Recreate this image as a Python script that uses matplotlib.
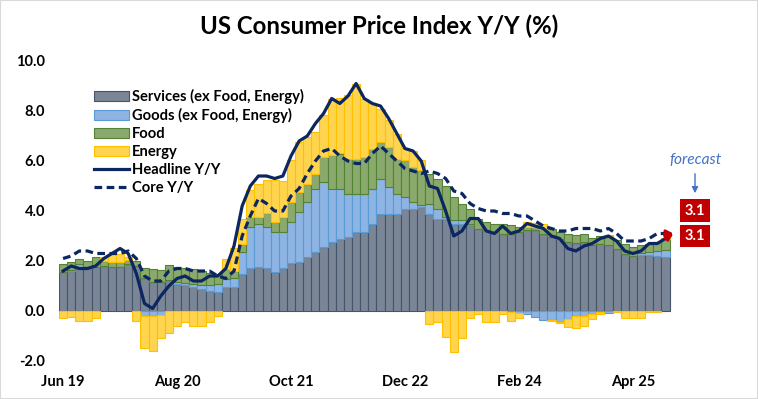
import matplotlib
matplotlib.use('Agg')
import matplotlib.pyplot as plt
from matplotlib.patches import Patch, Rectangle
from matplotlib.lines import Line2D
import numpy as np

# monthly, Jun 2019 .. Aug 2025
tick_pos = [0, 14, 28, 42, 56, 70]
tick_labels = ['Jun 19', 'Aug 20', 'Oct 21', 'Dec 22', 'Feb 24', 'Apr 25']

services = [1.57, 1.61, 1.73, 1.73, 1.77, 1.8, 1.77, 1.77, 1.9, 1.8,
            1.31, 1.17, 1.17, 1.24, 1.1, 1.04, 0.97, 0.9, 0.81, 0.77,
            0.97, 0.97, 1.47, 1.71, 1.77, 1.71, 1.57, 1.71, 1.91, 1.97,
            2.17, 2.37, 2.57, 2.77, 2.9, 2.97, 3.17, 3.17, 3.5, 3.9,
            3.9, 3.9, 4.08, 4.08, 4.15, 3.9, 3.7, 3.67, 3.5, 3.5,
            3.44, 3.3, 3.24, 3.17, 3.1, 3.08, 3.17, 3.24, 3.24, 3.1,
            2.97, 2.9, 2.77, 2.73, 2.77, 2.64, 2.7, 2.64, 2.48, 2.27,
            2.2, 2.24, 2.24, 2.2, 2.17]
goods = [0, 0.05, 0.16, 0.05, 0, 0, 0, 0, 0, 0,
         -0.2, -0.2, -0.15, 0, 0.05, 0.1, 0.13, 0.15, 0.23, 0.33,
         0.3, 0.35, 0.9, 1.67, 1.73, 1.67, 1.6, 1.47, 1.67, 2.0,
         2.2, 2.53, 2.6, 2.13, 2.0, 1.73, 1.53, 1.53, 1.4, 1.4,
         1.07, 0.8, 0.5, 0.3, 0.1, 0.37, 0.4, 0.08, 0.16, 0.16,
         0.05, 0, 0, 0, 0, -0.05, -0.07, -0.13, -0.25, -0.36,
         -0.36, -0.43, -0.3, -0.2, -0.2, -0.1, -0.03, -0.07, 0, 0,
         0, 0.07, 0.13, 0.21, 0.27]
food = [0.33, 0.3, 0.2, 0.22, 0.4, 0.2, 0.2, 0.2, 0.15, 0.2,
        0.4, 0.53, 0.47, 0.6, 0.6, 0.6, 0.6, 0.57, 0.5, 0.4,
        0.4, 0.3, 0.3, 0.4, 0.27, 0.53, 0.4, 0.6, 0.8, 0.8,
        0.73, 0.6, 1.0, 1.33, 1.4, 1.4, 1.4, 1.47, 1.6, 1.47,
        1.6, 1.4, 1.47, 1.4, 1.4, 1.23, 1.2, 1.24, 0.9, 0.64,
        0.6, 0.4, 0.33, 0.33, 0.37, 0.36, 0.2, 0.13, 0.13, 0.2,
        0.33, 0.27, 0.33, 0.3, 0.3, 0.3, 0.3, 0.37, 0.36, 0.4,
        0.37, 0.33, 0.33, 0.36, 0.43]
energy = [-0.29, -0.23, -0.4, -0.4, -0.29, 0.15, 0.3, 0.3, 0.1, -0.4,
          -1.29, -1.4, -0.94, -0.89, -0.6, -0.43, -0.6, -0.6, -0.43, -0.2,
          0.4, 0.9, 1.0, 1.07, 1.33, 1.33, 1.67, 1.43, 1.67, 2.0,
          1.87, 1.67, 1.67, 2.27, 2.2, 2.53, 3.0, 2.33, 1.8, 1.33,
          1.07, 1.0, 0.47, 0.64, 0.4, -0.5, -0.43, -1.03, -1.63, -1.09,
          -0.29, -0.1, -0.43, -0.43, -0.1, -0.36, -0.2, 0.2, 0.15, 0.2,
          -0.05, -0.05, -0.35, -0.49, -0.4, -0.23, -0.1, 0.05, -0.05, -0.27,
          -0.27, -0.27, -0.05, -0.05, 0.05]

headline = [1.6, 1.8, 1.7, 1.7, 1.8, 2.1, 2.3,
            2.5, 2.3, 1.5, 0.3, 0.1, 0.6, 1.0, 1.3, 1.4, 1.2, 1.2, 1.4,
            1.4, 1.7, 2.6, 4.2, 5.0, 5.4, 5.4, 5.3, 5.4, 6.2, 6.8, 7.0,
            7.5, 7.9, 8.5, 8.3, 8.6, 9.1, 8.5, 8.3, 8.2, 7.7, 7.1, 6.5,
            6.4, 6.0, 5.0, 4.9, 4.0, 3.0, 3.2, 3.7, 3.7, 3.2, 3.1, 3.4,
            3.1, 3.2, 3.5, 3.4, 3.3, 3.0, 2.9, 2.5, 2.4, 2.6, 2.7, 2.9,
            3.0, 2.8, 2.4, 2.3, 2.4, 2.7, 2.7, 2.9]
core = [2.1, 2.2, 2.4, 2.4, 2.3, 2.3, 2.3,
        2.3, 2.4, 2.1, 1.4, 1.2, 1.2, 1.6, 1.7, 1.7, 1.6, 1.6, 1.6,
        1.4, 1.3, 1.6, 3.0, 3.8, 4.5, 4.3, 4.0, 4.0, 4.6, 4.9, 5.5,
        6.0, 6.4, 6.5, 6.2, 6.0, 5.9, 5.9, 6.3, 6.6, 6.3, 6.0, 5.7,
        5.6, 5.5, 5.6, 5.5, 5.3, 4.8, 4.7, 4.3, 4.1, 4.0, 4.0, 3.9,
        3.9, 3.8, 3.8, 3.6, 3.4, 3.3, 3.2, 3.2, 3.3, 3.3, 3.3, 3.2,
        3.3, 3.1, 2.8, 2.8, 2.8, 2.9, 3.1, 3.1]
forecast_headline = 3.1
forecast_core = 3.1

FONT = 'Lato'
NAVY = '#0B2661'
RED = '#C00000'
series = [
    ('Services (ex Food, Energy)', services, '#7A8596', '#44546A'),
    ('Goods (ex Food, Energy)', goods, '#8DB4E2', '#5B9BD5'),
    ('Food', food, '#8AA96C', '#548235'),
    ('Energy', energy, '#FFD44F', '#FFC000'),
]


def px(x, y):
    return x / 758, 1 - y / 399


def main():
    plt.rcParams['font.family'] = [FONT, 'DejaVu Sans']
    fig = plt.figure(figsize=(7.58, 3.99), dpi=100)
    ax = fig.add_axes([59 / 758, 38 / 399, 8.14 * 78 / 758, 300 / 399])

    n = len(services)
    x = np.arange(n)
    pos_base = np.zeros(n)
    neg_base = np.zeros(n)
    for name, vals, fc, ec in series:
        v = np.array(vals, dtype=float)
        bottom = np.where(v >= 0, pos_base, neg_base)
        ax.bar(x, v, width=1.0, bottom=bottom, color=fc, edgecolor=ec,
               linewidth=0.8, zorder=2)
        pos_base += np.where(v > 0, v, 0)
        neg_base += np.where(v < 0, v, 0)

    ax.plot(x, headline, color=NAVY, lw=2.3, zorder=4, solid_joinstyle='round')
    ax.plot(x, core, color=NAVY, lw=2.3, zorder=4, linestyle=(0, (2.4, 1.4)))

    for last, fc_val in [(core[-1], forecast_core), (headline[-1], forecast_headline)]:
        ax.annotate('', xy=(n, fc_val), xytext=(n - 1, last),
                    arrowprops=dict(arrowstyle='-|>', color=RED, lw=2,
                                    mutation_scale=10, shrinkA=0, shrinkB=0),
                    zorder=5)

    ax.set_xlim(-0.5, 77.5)
    ax.set_ylim(-2, 10)
    ax.set_yticks(np.arange(-2, 11, 2))
    ax.set_yticklabels([f'{v:.1f}' for v in np.arange(-2, 11, 2)])
    ax.set_xticks(tick_pos)
    ax.set_xticklabels(tick_labels)
    ax.tick_params(length=0, labelsize=10.5, pad=10)
    for lab in ax.get_xticklabels() + ax.get_yticklabels():
        lab.set_fontweight('bold')
    for s in ax.spines.values():
        s.set_visible(False)
    ax.patch.set_alpha(0)

    handles = [Patch(facecolor=fc, edgecolor=ec, lw=0.8) for _, _, fc, ec in series]
    handles += [Line2D([], [], color=NAVY, lw=2.3),
                Line2D([], [], color=NAVY, lw=2.3, linestyle=(0, (2.4, 1.4)))]
    labels = [s[0] for s in series] + ['Headline Y/Y', 'Core Y/Y']
    fig.legend(handles, labels, loc='upper left', bbox_to_anchor=px(94, 89),
               frameon=False, prop={'weight': 'bold', 'size': 10.6},
               handlelength=2.35, handleheight=0.72, handletextpad=0.25,
               labelspacing=0.27, borderpad=0, borderaxespad=0)

    fig.text(*px(379, 26), 'US Consumer Price Index Y/Y (%)', ha='center',
             va='center', fontsize=17.3, fontweight='bold')

    fig.text(*px(695, 160), 'forecast', ha='center', va='center',
             fontsize=11.2, style='italic', color='#4472C4')
    fig.patches.append(matplotlib.patches.FancyArrowPatch(
        px(695, 171), px(695, 196), transform=fig.transFigure,
        arrowstyle='-|>', mutation_scale=9, color='#4472C4', lw=1))
    for yy in (210.5, 236):
        fig.text(*px(695, yy), '3.1', ha='center', va='center', fontsize=10.5,
                 fontweight='bold', color='white',
                 bbox=dict(boxstyle='square,pad=0.3', facecolor=RED,
                           edgecolor='none'))

    fig.patches.append(Rectangle((0, 0), 1, 1, transform=fig.transFigure,
                                 fill=False, edgecolor='#D9D9D9', lw=1.5))
    fig.savefig('out.png', dpi=100)


if __name__ == '__main__':
    main()
